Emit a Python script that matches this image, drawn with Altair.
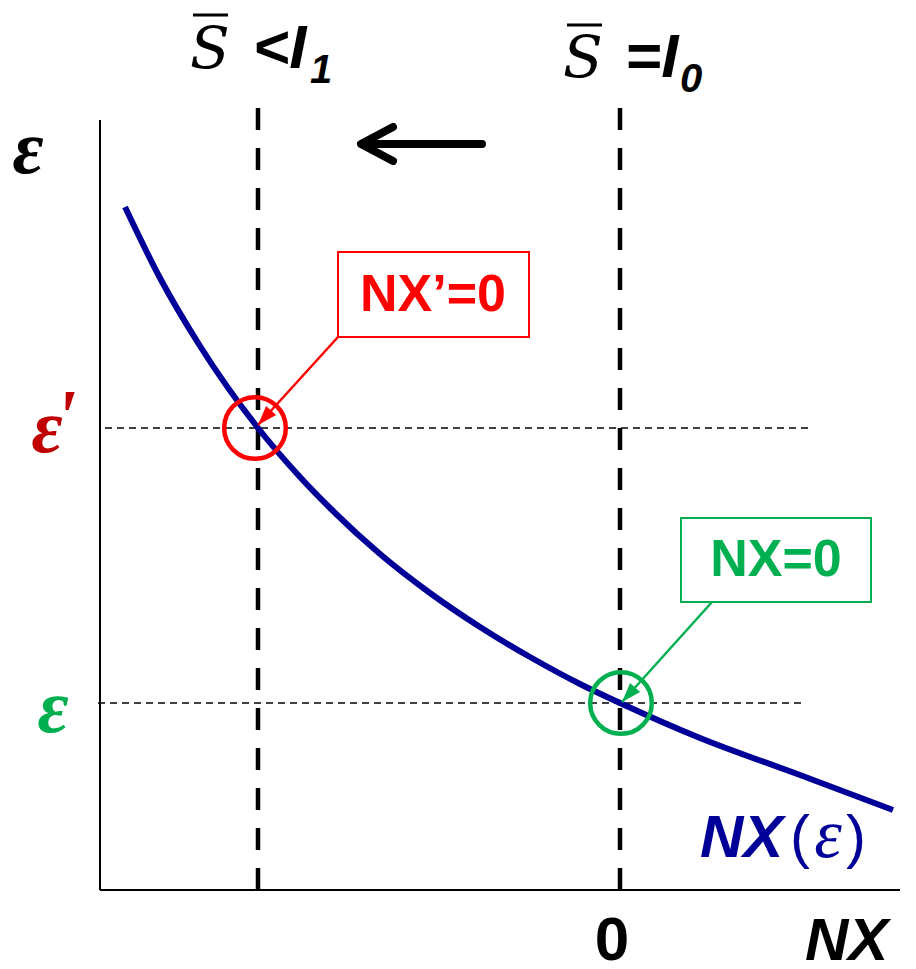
import altair as alt
import pandas as pd

# ---- data (chart units: NX horizontally, epsilon vertically) ----
curve_nx = [-495, -460, -420, -362, -320, -290, -240, -190, -140, -90, -40, 0, 80, 180, 273]
curve_eps = [683, 612, 544, 462, 413, 382, 336, 297, 263, 233, 206, 187, 152, 115, 80]

nx_shift = [-362, 0]          # vertical dashed lines (S = I1, S = I0)
eps_levels = [462, 187]       # epsilon' and epsilon
eps_line_from = [-515, -522]
eps_line_to = [190, 185]

circle_nx = [-365, 1]
circle_eps = [462, 187]
circle_col = ["#FF0000", "#00B050"]

box_x1 = [-282, 61]
box_x2 = [-91, 251]
box_y1 = [553, 288]
box_y2 = [638, 372]
box_text = ["NX\u2019=0", "NX=0"]
box_tx = [-187, 156]
box_ty = [595, 330]

arr_x1 = [-282, 92]
arr_y1 = [553, 288]
arr_x2 = [-362, 2]
arr_y2 = [465, 188]

W, H = 900, 953
xs = alt.Scale(domain=[-612, 288], nice=False, zero=False)
ys = alt.Scale(domain=[882 - H, 882], nice=False, zero=False)


def X(f):
    return alt.X(f, type="quantitative", scale=xs, axis=None)


def Y(f):
    return alt.Y(f, type="quantitative", scale=ys, axis=None)


layers = []

# axes
axes_df = pd.DataFrame({"x": [-520, -520], "x2": [-520, 280], "y": [0, 0], "y2": [770, 0]})
layers.append(alt.Chart(axes_df).mark_rule(color="black", strokeWidth=2).encode(
    x=X("x"), x2="x2", y=Y("y"), y2="y2"))

# horizontal thin dashed
h_df = pd.DataFrame({"x": eps_line_from, "x2": eps_line_to, "y": eps_levels})
layers.append(alt.Chart(h_df).mark_rule(color="black", strokeWidth=1.5, strokeDash=[7, 5]).encode(
    x=X("x"), x2="x2", y=Y("y")))

# vertical thick dashed
v_df = pd.DataFrame({"x": nx_shift, "y": [0, 0], "y2": [790, 790]})
layers.append(alt.Chart(v_df).mark_rule(color="black", strokeWidth=4.5, strokeDash=[22, 18]).encode(
    x=X("x"), y=Y("y"), y2="y2"))

# NX curve
c_df = pd.DataFrame({"x": curve_nx, "y": curve_eps})
layers.append(alt.Chart(c_df).mark_line(color="#000099", strokeWidth=6, interpolate="monotone").encode(
    x=X("x"), y=Y("y")))

# circles
ci_df = pd.DataFrame({"x": circle_nx, "y": circle_eps, "c": circle_col})
layers.append(alt.Chart(ci_df).mark_point(shape="circle", size=3800, strokeWidth=4.5, filled=False, opacity=1).encode(
    x=X("x"), y=Y("y"), color=alt.Color("c:N", scale=None)))

# boxes
b_df = pd.DataFrame({"x": box_x1, "x2": box_x2, "y": box_y1, "y2": box_y2, "c": circle_col})
layers.append(alt.Chart(b_df).mark_rect(fill="white", fillOpacity=0.0, strokeWidth=2).encode(
    x=X("x"), x2="x2", y=Y("y"), y2="y2", stroke=alt.Stroke("c:N", scale=None)))

# arrow shafts
a_df = pd.DataFrame({"x": arr_x1, "x2": arr_x2, "y": arr_y1, "y2": arr_y2, "c": circle_col})
layers.append(alt.Chart(a_df).mark_rule(strokeWidth=2.5).encode(
    x=X("x"), x2="x2", y=Y("y"), y2="y2", color=alt.Color("c:N", scale=None)))

# arrow heads
ah_df = pd.DataFrame({"x": arr_x2, "y": arr_y2, "c": circle_col})
layers.append(alt.Chart(ah_df).mark_point(shape="M0,0L0.55,1.6L-0.55,1.6Z", filled=True, size=600,
                                          angle=222, opacity=1).encode(
    x=X("x"), y=Y("y"), color=alt.Color("c:N", scale=None)))

# box texts
bt_df = pd.DataFrame({"x": box_tx, "y": box_ty, "t": box_text, "c": circle_col})
layers.append(alt.Chart(bt_df).mark_text(font="Liberation Sans", fontWeight="bold", fontSize=52,
                                         baseline="middle", align="center").encode(
    x=X("x"), y=Y("y"), text="t:N", color=alt.Color("c:N", scale=None)))

# top black arrow
ta_shaft = pd.DataFrame({"x": [-138], "x2": [-258], "y": [746]})
layers.append(alt.Chart(ta_shaft).mark_rule(color="black", strokeWidth=8, strokeCap="round").encode(
    x=X("x"), x2="x2", y=Y("y")))
ta_head = pd.DataFrame({"x": [-227, -259, -227], "y": [763, 746, 729], "o": [0, 1, 2]})
layers.append(alt.Chart(ta_head).mark_line(color="black", strokeWidth=8, strokeCap="round",
                                           strokeJoin="round").encode(
    x=X("x"), y=Y("y"), order="o:Q"))

# overbars of S
ob_df = pd.DataFrame({"x": [-427, -53], "x2": [-392, -18], "y": [875, 865]})
layers.append(alt.Chart(ob_df).mark_rule(color="black", strokeWidth=3).encode(
    x=X("x"), x2="x2", y=Y("y")))


def text_layer(xv, yv, txt, color, font, size, weight="normal", style="normal", align="left",
               baseline="alphabetic"):
    df = pd.DataFrame({"x": xv, "y": yv, "t": txt})
    return alt.Chart(df).mark_text(font=font, fontSize=size, fontWeight=weight, fontStyle=style,
                                   color=color, align=align, baseline=baseline).encode(
        x=X("x"), y=Y("y"), text="t:N")


# S labels (serif italic)
layers.append(text_layer([-430, -57], [822, 813], ["S", "S"], "black", "DejaVu Serif", 58,
                         style="italic"))
# <I and =I
layers.append(text_layer([-367, 5], [822, 813], ["<I", "=I"], "black", "Liberation Sans", 62,
                         weight="bold", style="italic"))
# subscripts
layers.append(text_layer([-310, 60], [807, 798], ["1", "0"], "black", "Liberation Sans", 40,
                         weight="bold", style="italic"))

# epsilon labels on the left
layers.append(text_layer([-592], [717], ["\u03b5"], "black", "Liberation Serif", 76,
                         weight="bold", style="italic", align="center"))
layers.append(text_layer([-573], [438], ["\u03b5"], "#C00000", "Liberation Serif", 76,
                         weight="bold", style="italic", align="center"))
layers.append(text_layer([-565], [448], ["'"], "#C00000", "Liberation Serif", 76,
                         weight="bold", style="italic"))
layers.append(text_layer([-567], [158], ["\u03b5"], "#00B050", "Liberation Serif", 76,
                         weight="bold", style="italic", align="center"))

# NX(eps) curve label
layers.append(text_layer([80], [33], ["NX"], "#000099", "Liberation Sans", 60, weight="bold",
                         style="italic"))
layers.append(text_layer([170, 226], [33, 33], ["(", ")"], "#000099", "Liberation Sans", 60))
layers.append(text_layer([208], [33], ["\u03b5"], "#000099", "Liberation Serif", 70, style="italic",
                         align="center"))

# bottom labels
layers.append(text_layer([-8], [-70], ["0"], "black", "Liberation Sans", 62, weight="bold",
                         align="center"))
layers.append(text_layer([185], [-70], ["NX"], "black", "Liberation Sans", 60, weight="bold",
                         style="italic"))

chart = alt.layer(*layers).properties(
    width=W, height=H, padding=0, autosize=alt.AutoSizeParams(type="none"), background="white"
).configure_view(stroke=None)

chart.save("out.html", embed_options={"renderer": "svg", "actions": False})
